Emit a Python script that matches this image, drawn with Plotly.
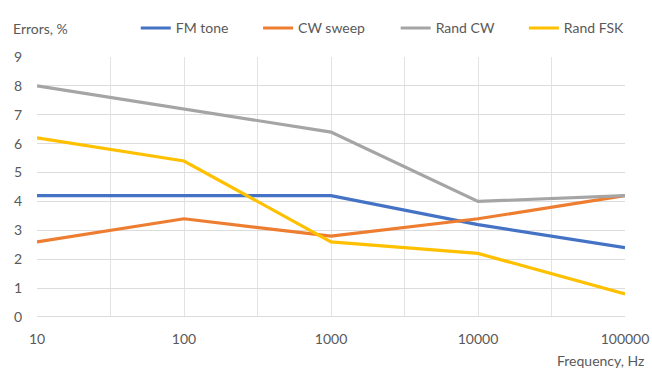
import plotly.graph_objects as go

freq = [10, 100, 1000, 10000, 100000]
fm_tone = [4.2, 4.2, 4.2, 3.2, 2.4]
cw_sweep = [2.6, 3.4, 2.8, 3.4, 4.2]
rand_cw = [8.0, 7.2, 6.4, 4.0, 4.2]
rand_fsk = [6.2, 5.4, 2.6, 2.2, 0.8]
x_ticks = [10, 100, 1000, 10000, 100000]
x_tick_labels = ["10", "100", "1000", "10000", "100000"]

series = [
    ("FM tone", fm_tone, "#4472C4"),
    ("CW sweep", cw_sweep, "#ED7D31"),
    ("Rand CW", rand_cw, "#A5A5A5"),
    ("Rand FSK", rand_fsk, "#FFC000"),
]
legend_x = [0.168, 0.376, 0.610, 0.828]

font = "Lato"
grey = "#595959"

fig = go.Figure()
legend_layout = {}
for i, (name, vals, col) in enumerate(series):
    key = "legend" if i == 0 else f"legend{i + 1}"
    fig.add_trace(go.Scatter(x=freq, y=vals, name=name, mode="lines",
                             line=dict(color=col, width=3.2), legend=key))
    legend_layout[key] = dict(orientation="h", x=legend_x[i], xanchor="left",
                              y=1.11, yanchor="middle",
                              font=dict(size=14, color=grey, family=font),
                              itemwidth=30, bgcolor="rgba(0,0,0,0)")

half_decades = [10 ** (k + 0.5) for k in range(1, 5)]

fig.update_layout(
    width=652, height=374,
    margin=dict(l=37, r=27, t=54, b=57),
    paper_bgcolor="white", plot_bgcolor="white",
    font=dict(family=font, size=14, color=grey),
    showlegend=True,
    xaxis=dict(type="log", range=[1, 5], tickvals=x_ticks, ticktext=x_tick_labels,
               showgrid=True, gridcolor="#E3E3E3", gridwidth=1,
               minor=dict(tickvals=half_decades, showgrid=True, gridcolor="#E3E3E3", gridwidth=1),
               zeroline=False, showline=False, ticks="", automargin=False,
               ticklabelstandoff=12, tickfont=dict(size=14, color=grey)),
    yaxis=dict(range=[0, 9], dtick=1, showgrid=True, gridcolor="#DCDCDC", gridwidth=1,
               zeroline=False, showline=False, ticks="", automargin=False,
               ticklabelstandoff=14, tickfont=dict(size=14, color=grey)),
    annotations=[
        dict(text="Errors, %", xref="paper", yref="paper", x=-0.045, y=1.11,
             xanchor="left", yanchor="middle", showarrow=False,
             font=dict(size=14, color=grey)),
        dict(text="Frequency, Hz", xref="paper", yref="paper", x=1.035, y=-0.167,
             xanchor="right", yanchor="middle", showarrow=False,
             font=dict(size=14, color=grey)),
    ],
    **legend_layout,
)
fig.add_shape(type="line", xref="paper", yref="y", x0=0, x1=1, y0=0, y1=0,
              line=dict(color="#D0D0D0", width=1.5))

fig.write_html("out.html", config={"displayModeBar": False},
               post_script="document.body.style.margin='0';document.body.style.overflow='hidden';")
